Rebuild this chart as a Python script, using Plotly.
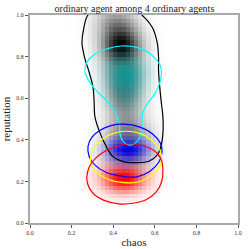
import numpy as np
import plotly.graph_objects as go

TITLE = "ordinary agent among 4 ordinary agents"
X_LABEL = "chaos"
Y_LABEL = "reputation"
TICK_VALUES = [0.0, 0.2, 0.4, 0.6, 0.8, 1.0]
TICK_TEXT = ["0.0", "0.2", "0.4", "0.6", "0.8", "1.0"]

# density blobs: centres, spreads, weights
GRAY_CX = [0.44, 0.45, 0.47, 0.41]
GRAY_CY = [0.85, 0.64, 0.42, 0.97]
GRAY_SX = [0.065, 0.06, 0.07, 0.07]
GRAY_SY = [0.065, 0.09, 0.075, 0.06]
GRAY_W = [1.0, 0.6, 0.5, 0.35]

CYAN_CX = [0.46, 0.47]
CYAN_CY = [0.72, 0.62]
CYAN_SX = [0.065, 0.05]
CYAN_SY = [0.055, 0.05]
CYAN_W = [1.0, 0.4]

YELLOW_CX = [0.46]
YELLOW_CY = [0.31]
YELLOW_SX = [0.07]
YELLOW_SY = [0.05]
YELLOW_W = [1.0]

BLUE_CX = [0.47]
BLUE_CY = [0.35]
BLUE_SX = [0.07]
BLUE_SY = [0.042]
BLUE_W = [1.0]

RED_CX = [0.45]
RED_CY = [0.215]
RED_SX = [0.075]
RED_SY = [0.048]
RED_W = [1.0]

# contour outlines
BLACK_X = [0.279, 0.257, 0.250, 0.262, 0.284, 0.303, 0.308, 0.3125, 0.337, 0.368, 0.399, 0.447, 0.514,
           0.572, 0.611, 0.630, 0.639, 0.639, 0.630, 0.623, 0.618, 0.618, 0.611, 0.587, 0.538, 0.481,
           0.409, 0.337, 0.279]
BLACK_Y = [1.000, 0.928, 0.865, 0.798, 0.726, 0.653, 0.591, 0.509, 0.432, 0.365, 0.319, 0.295, 0.290,
           0.297, 0.326, 0.369, 0.432, 0.509, 0.591, 0.663, 0.735, 0.798, 0.870, 0.942, 1.000, 1.039,
           1.048, 1.034, 1.000]

CYAN_X = [0.442, 0.514, 0.5625, 0.601, 0.627, 0.632, 0.620, 0.596, 0.5625, 0.543, 0.538, 0.536, 0.514,
          0.481, 0.450, 0.433, 0.428, 0.409, 0.370, 0.317, 0.281, 0.264, 0.274, 0.3125, 0.375, 0.442]
CYAN_Y = [0.851, 0.844, 0.824, 0.793, 0.755, 0.711, 0.663, 0.615, 0.572, 0.533, 0.485, 0.432, 0.391,
          0.374, 0.389, 0.427, 0.485, 0.533, 0.586, 0.639, 0.687, 0.730, 0.774, 0.812, 0.839, 0.851]

BLUE_X = [0.447, 0.529, 0.591, 0.627, 0.635, 0.620, 0.577, 0.514, 0.442, 0.365, 0.3125, 0.284, 0.279,
          0.298, 0.337, 0.389, 0.447]
BLUE_Y = [0.475, 0.461, 0.427, 0.384, 0.341, 0.293, 0.249, 0.222, 0.225, 0.244, 0.278, 0.321, 0.369,
          0.413, 0.446, 0.468, 0.475]

YELLOW_X = [0.466, 0.538, 0.591, 0.625, 0.632, 0.615, 0.572, 0.514, 0.452, 0.385, 0.332, 0.298, 0.291,
            0.308, 0.346, 0.404, 0.466]
YELLOW_Y = [0.441, 0.427, 0.393, 0.350, 0.302, 0.259, 0.220, 0.196, 0.194, 0.206, 0.234, 0.273, 0.316,
            0.364, 0.403, 0.432, 0.441]

RED_X = [0.481, 0.553, 0.601, 0.630, 0.639, 0.632, 0.606, 0.558, 0.495, 0.428, 0.356, 0.303, 0.276,
         0.276, 0.298, 0.341, 0.404, 0.481]
RED_Y = [0.381, 0.369, 0.345, 0.307, 0.254, 0.196, 0.148, 0.112, 0.095, 0.092, 0.109, 0.143, 0.191,
         0.244, 0.292, 0.333, 0.364, 0.381]

N = 50
grid = (np.arange(N) + 0.5) / N
GX, GY = np.meshgrid(grid, grid)


def blob(cx, cy, sx, sy, w):
    z = np.zeros_like(GX)
    for a, b, c, d, e in zip(cx, cy, sx, sy, w):
        z += e * np.exp(-((GX - a) ** 2 / (2 * c * c) + (GY - b) ** 2 / (2 * d * d)))
    return z / z.max()


def scale(rgb, amax=1.0):
    r, g, b = rgb
    return [[0, f"rgba({r},{g},{b},0)"], [1, f"rgba({r},{g},{b},{amax})"]]


fig = go.Figure()
layers = [
    ((GRAY_CX, GRAY_CY, GRAY_SX, GRAY_SY, GRAY_W), (0, 0, 0), 1.0),
    ((CYAN_CX, CYAN_CY, CYAN_SX, CYAN_SY, CYAN_W), (0, 150, 150), 0.85),
    ((YELLOW_CX, YELLOW_CY, YELLOW_SX, YELLOW_SY, YELLOW_W), (200, 180, 0), 0.25),
    ((RED_CX, RED_CY, RED_SX, RED_SY, RED_W), (255, 0, 0), 1.0),
    ((BLUE_CX, BLUE_CY, BLUE_SX, BLUE_SY, BLUE_W), (0, 0, 230), 1.0),
]
for params, rgb, amax in layers:
    fig.add_trace(go.Heatmap(x=grid, y=grid, z=blob(*params), colorscale=scale(rgb, amax),
                             zmin=0, zmax=1, showscale=False, zsmooth=False, hoverinfo="skip"))

for xs, ys, col in [(BLACK_X, BLACK_Y, "black"), (CYAN_X, CYAN_Y, "#00ffff"),
                    (BLUE_X, BLUE_Y, "#0000ff"), (YELLOW_X, YELLOW_Y, "#ffff00"),
                    (RED_X, RED_Y, "#ff0000")]:
    fig.add_trace(go.Scatter(x=xs, y=ys, mode="lines", line=dict(color=col, width=1.2, shape="spline"),
                             showlegend=False, hoverinfo="skip"))

axis_common = dict(range=[0, 1], showgrid=False, zeroline=False, showline=True, linecolor="#aaaaaa",
                   linewidth=2, mirror=True, ticks="outside", ticklen=3, tickwidth=1, tickcolor="#555555",
                   tickvals=TICK_VALUES, ticktext=TICK_TEXT, automargin=False,
                   tickfont=dict(family="Liberation Serif", size=6, color="#333333"))
fig.update_layout(
    width=249, height=249,
    margin=dict(l=30, r=11, t=15, b=26),
    paper_bgcolor="white", plot_bgcolor="white",
    title=dict(text=TITLE, x=0.54, xanchor="center", y=0.965, yanchor="middle",
               font=dict(family="Liberation Serif", size=10, color="#222222")),
    xaxis=dict(axis_common, title=dict(text=X_LABEL, standoff=3,
                                       font=dict(family="Liberation Serif", size=11, color="#222222"))),
    yaxis=dict(axis_common, title=dict(text=Y_LABEL, standoff=3,
                                       font=dict(family="Liberation Serif", size=11, color="#222222"))),
    showlegend=False,
)
fig.write_html("out.html", config={"displayModeBar": False},
               post_script="document.body.style.margin='0';document.body.style.padding='0';")
